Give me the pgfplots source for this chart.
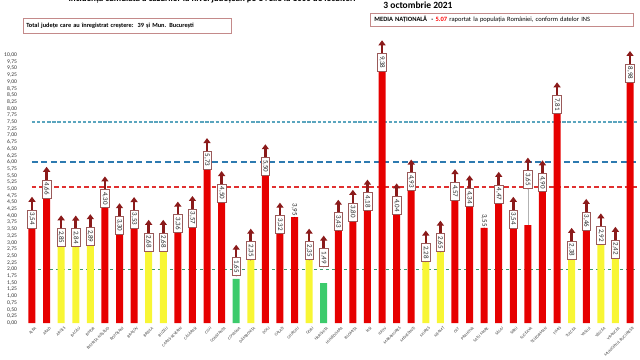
\documentclass[border=0pt]{standalone}
\usepackage{fontspec}
\setmainfont{Carlito}
\usepackage{pgfplots}
\pgfplotsset{compat=1.18}
\usepackage{pgfplotstable}
\usetikzlibrary{arrows.meta}

\definecolor{barred}{HTML}{E60000}
\definecolor{baryel}{HTML}{F8F634}
\definecolor{bargrn}{HTML}{3CCB6C}
\definecolor{arrred}{HTML}{8B1A1A}
\definecolor{boxbrd}{HTML}{9A5A5A}
\definecolor{boxpink}{HTML}{C48A8A}
\definecolor{lteal}{HTML}{5AA5BE}
\definecolor{dblue}{HTML}{2D7AB0}
\definecolor{lred}{HTML}{E03030}
\definecolor{lgreen}{HTML}{3A9A6A}

% i: position, v: value, c: colour class (0 red, 1 yellow, 2 green),
% a: has box+arrow, o: label lift
\pgfplotstableread{
i v c a o
0 3.54 0 1 0
1 4.66 0 1 0
2 2.85 1 1 0
3 2.84 1 1 0
4 2.89 1 1 0
5 4.30 0 1 0
6 3.30 0 1 0
7 3.53 0 1 0
8 2.68 1 1 0
9 2.68 1 1 0
10 3.36 0 1 0
11 3.57 0 1 0
12 5.73 0 1 0
13 4.50 0 1 0
14 1.65 2 1 0.1
15 2.35 1 1 0
16 5.50 0 1 0
17 3.32 0 1 0
18 3.95 0 0 0
19 2.35 1 1 0
20 1.49 2 1 0.6
21 3.43 0 1 0
22 3.80 0 1 0
23 4.18 0 1 0
24 9.38 0 1 0
25 4.04 0 1 0
26 4.93 0 1 0
27 2.28 1 1 0
28 2.65 1 1 0
29 4.57 0 1 0
30 4.34 0 1 0
31 3.55 0 0 0
32 4.47 0 1 0
33 3.54 0 1 0
34 3.65 0 1 1.35
35 4.90 0 1 0
36 7.81 0 1 0
37 2.38 1 1 0
38 3.46 0 1 0
39 2.92 1 1 0
40 2.42 1 1 0
41 8.98 0 1 0
}\data

\begin{document}
\begin{tikzpicture}[x=1pt,y=1pt]
\begin{axis}[
  at={(24.7pt,36pt)}, anchor=south west,
  scale only axis, width=612.6pt, height=274.7pt,
  xmin=-0.5, xmax=41.5, ymin=0, ymax=10.25,
  clip=false,
  axis line style={draw=none}, tick style={draw=none},
  ytick={0,0.25,...,10},
  /pgf/number format/assume math mode=true,
  y tick label style={/pgf/number format/.cd, fixed, fixed zerofill, precision=2, use comma, /tikz/.cd,
     font=\fontsize{5.6}{6}\selectfont, text=black!80, inner xsep=0pt, xshift=-7.5pt},
  xtick={0,...,41},
  xticklabels={ALBA,ARAD,ARGEȘ,BACĂU,BIHOR,BISTRIȚA-NĂSĂUD,BOTOȘANI,BRAȘOV,BRĂILA,BUZĂU,CARAȘ-SEVERIN,CĂLĂRAȘI,CLUJ,CONSTANȚA,COVASNA,DÂMBOVIȚA,DOLJ,GALAȚI,GIURGIU,GORJ,HARGHITA,HUNEDOARA,IALOMIȚA,IAȘI,ILFOV,MARAMUREȘ,MEHEDINȚI,MUREȘ,NEAMȚ,OLT,PRAHOVA,SATU MARE,SĂLAJ,SIBIU,SUCEAVA,TELEORMAN,TIMIȘ,TULCEA,VASLUI,VÂLCEA,VRANCEA,MUNICIPIUL BUCUREȘTI},
  x tick label style={rotate=45, anchor=east, inner sep=0pt, yshift=-6pt, xshift=-0.5pt,
     font=\fontsize{4.1}{5}\selectfont, text=black!75},
]
% reference lines
\addplot[lteal, line width=1.1pt, dash pattern=on 3.3pt off 1.8pt] coordinates {(0,7.5) (41.5,7.5)};
\addplot[dblue, line width=1.8pt, dash pattern=on 6pt off 3.5pt] coordinates {(0,6) (41.5,6)};
\addplot[lred, line width=1.3pt, dash pattern=on 4.5pt off 3pt] coordinates {(0,5.07) (41.5,5.07)};
\addplot[lgreen, line width=1.3pt, dash pattern=on 3.5pt off 2.5pt] coordinates {(0,2) (41.5,2)};
% bars
\addplot[ybar, bar width=7pt, bar shift=0pt, fill=barred, draw=none,
  restrict expr to domain={\thisrow{c}}{-0.5:0.5}] table[x=i,y=v]{\data};
\addplot[ybar, bar width=7pt, bar shift=0pt, fill=baryel, draw=none,
  restrict expr to domain={\thisrow{c}}{0.5:1.5}] table[x=i,y=v]{\data};
\addplot[ybar, bar width=7pt, bar shift=0pt, fill=bargrn, draw=none,
  restrict expr to domain={\thisrow{c}}{1.5:2.5}] table[x=i,y=v]{\data};
% leader line for Suceava
\addplot[gray!60, line width=0.5pt] coordinates {(34,3.65) (34,5.0)};
% boxed labels
\addplot[only marks, mark=*, mark size=0.01pt, mark options={draw=none,fill=none},
  point meta=explicit,
  nodes near coords={\pgfmathprintnumber[fixed,fixed zerofill,precision=2,use comma]{\pgfplotspointmeta}},
  every node near coord/.style={rotate=-90, anchor=east, draw=boxbrd, fill=white, line width=0.6pt,
     font=\fontsize{7}{8}\selectfont, inner xsep=2pt, inner ysep=1.5pt, minimum width=18pt, text=black!85},
  restrict expr to domain={\thisrow{a}}{0.5:1.5}] table[x=i, y expr=\thisrow{v}+\thisrow{o}, meta=v]{\data};
% unboxed labels
\addplot[only marks, mark=*, mark size=0.01pt, mark options={draw=none,fill=none},
  point meta=explicit,
  nodes near coords={\pgfmathprintnumber[fixed,fixed zerofill,precision=2,use comma]{\pgfplotspointmeta}},
  every node near coord/.style={rotate=-90, anchor=east, inner xsep=1pt, inner ysep=1pt,
     font=\fontsize{7}{8}\selectfont, text=black!85},
  restrict expr to domain={\thisrow{a}}{-0.5:0.5}] table[x=i, y=v, meta=v]{\data};
% arrows
\addplot[arrred, line width=2.6pt, -{Triangle[width=7pt,length=5pt]},
  quiver={u=0, v=0.48},
  restrict expr to domain={\thisrow{a}}{0.5:1.5}] table[x=i, y expr=\thisrow{v}+\thisrow{o}+0.69]{\data};
\end{axis}
% titles and boxes
\node[anchor=base, font=\bfseries\fontsize{9}{10}\selectfont] at (212,357) {Incidența cumulată a cazurilor la nivel județean pe 14 zile la 1000 de locuitori};
\node[anchor=base, font=\bfseries\fontsize{9.5}{10}\selectfont] at (418,350) {3 octombrie 2021};
\node[draw=boxpink, line width=0.8pt, anchor=north west, inner xsep=3pt, inner ysep=0pt,
  text width=202pt, minimum height=15pt, align=left, font=\bfseries\fontsize{6.3}{7}\selectfont]
  at (23,341) {Total județe care au înregistrat creștere:\ \ 39 și Mun. București};
\node[draw=boxpink, line width=0.8pt, anchor=north west, inner xsep=4pt, inner ysep=0pt,
  text width=255pt, minimum height=13pt, align=left, font=\fontsize{6.5}{7}\selectfont]
  at (370,346) {\textbf{MEDIA NAȚIONALĂ}\ \ \textbf{- \textcolor{red}{5.07}} raportat la populația României, conform datelor INS};
\pgfresetboundingbox
\useasboundingbox (0,0) rectangle (640,359);
\end{tikzpicture}
\end{document}
